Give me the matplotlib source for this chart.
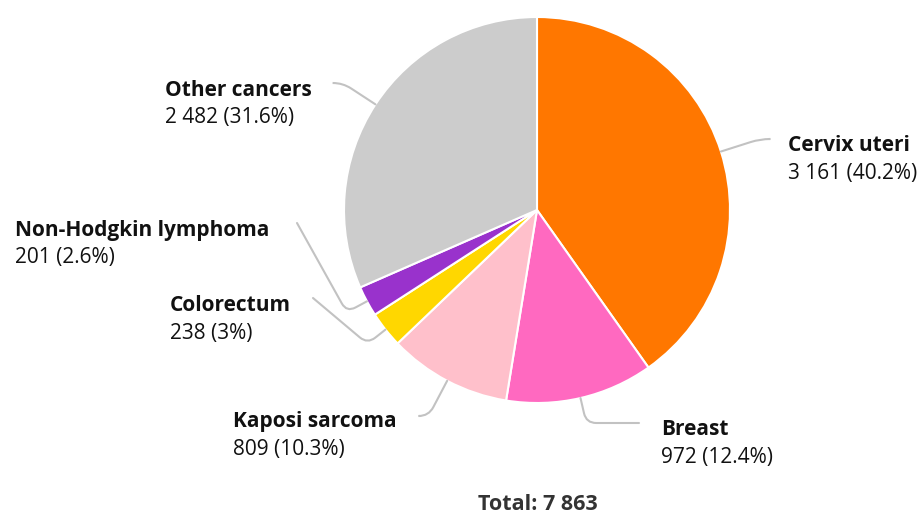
import numpy as np
import matplotlib.pyplot as plt
from matplotlib.path import Path
from matplotlib.patches import PathPatch

plt.rcParams["font.family"] = ["Open Sans", "DejaVu Sans"]

labels = ["Cervix uteri", "Breast", "Kaposi sarcoma", "Colorectum",
          "Non-Hodgkin lymphoma", "Other cancers"]
counts = [3161, 972, 809, 238, 201, 2482]
pct_text = ["40.2%", "12.4%", "10.3%", "3%", "2.6%", "31.6%"]
colors = ["#ff7700", "#ff69c0", "#ffc0cb", "#ffd700", "#9932cc", "#cccccc"]

W, H = 919, 516
cx, cy, R = 537, 210, 193  # pixel coords, y from top

# label layout (pixel coords from top): text x, bold line baseline, connector end
lab_x = [788, 661, 233, 170, 15, 165]
lab_y = [151, 435, 427, 311, 236, 96]
end_pt = [(769, 139), (639, 423), (420, 416), (313, 298), (297, 223), (333, 83)]
knee_r = [None, None, None, 216, 216, None]  # None -> knee at end_pt y


def fmt(n):
    return f"{n:,}".replace(",", " ")


fig = plt.figure(figsize=(W / 100, H / 100), dpi=100)
ax = fig.add_axes([0, 0, 1, 1])
ax.axis("off")

ax.pie(counts, colors=colors, startangle=90, counterclock=False,
       center=(cx, H - cy), radius=R,
       wedgeprops=dict(edgecolor="white", linewidth=1.5))
ax.set_xlim(0, W)
ax.set_ylim(0, H)
ax.set_aspect("equal")

total = sum(counts)
cum = 0
for i, n in enumerate(counts):
    mid = (cum + n / 2) / total * 2 * np.pi  # clockwise from top
    cum += n
    s, c = np.sin(mid), np.cos(mid)
    ex, ey = cx + R * s, cy - R * c
    lx, ly = end_pt[i]
    if knee_r[i] is None:
        rk = (cy - ly) / c
    else:
        rk = knee_r[i]
    kx, ky = cx + rk * s, cy - rk * c
    # rounded corner at knee
    v1 = np.array([ex - kx, ey - ky]); v1 /= np.hypot(*v1)
    v2 = np.array([lx - kx, ly - ky]); v2 /= np.hypot(*v2)
    rr = 10
    p1 = (kx + v1[0] * rr, ky + v1[1] * rr)
    p2 = (kx + v2[0] * rr, ky + v2[1] * rr)
    pts = [(ex, ey), p1, (kx, ky), p2, (lx, ly)]
    pts = [(x, H - y) for x, y in pts]
    codes = [Path.MOVETO, Path.LINETO, Path.CURVE3, Path.CURVE3, Path.LINETO]
    ax.add_patch(PathPatch(Path(pts, codes), fill=False, edgecolor="#c2c2c2",
                           linewidth=1.5, capstyle="round"))

    ax.text(lab_x[i], H - lab_y[i], labels[i], fontsize=15, fontweight="bold",
            color="#111111", ha="left", va="baseline")
    ax.text(lab_x[i], H - lab_y[i] - 27.5, f"{fmt(n)} ({pct_text[i]})", fontsize=15,
            color="#111111", ha="left", va="baseline")

ax.text(538, H - 510, f"Total: {fmt(total)}", fontsize=15.5, fontweight="bold",
        color="#333333", ha="center", va="baseline")

fig.savefig("out.png", dpi=100)
